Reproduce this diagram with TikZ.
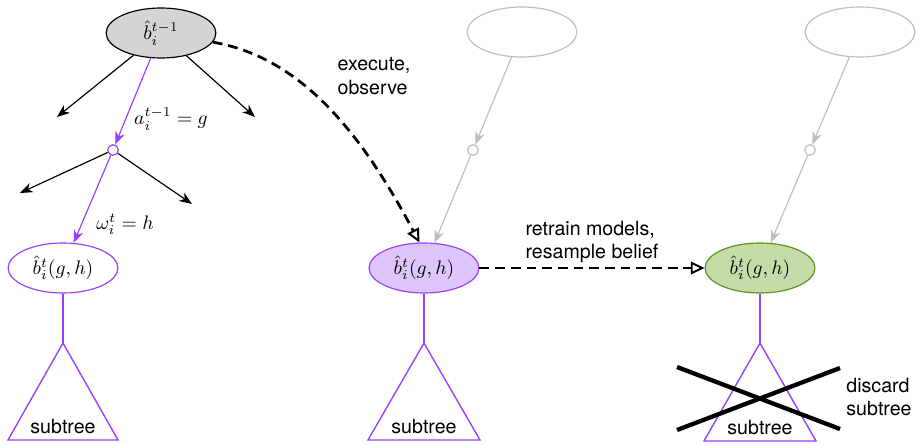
\documentclass[tikz,border=0pt]{standalone}
\usepackage{fontspec}
\setsansfont{TeX Gyre Heros}
\usetikzlibrary{arrows.meta,shapes.geometric}

\definecolor{treepurple}{RGB}{155,62,255}
\definecolor{beliefpurple}{RGB}{221,198,251}
\definecolor{beliefgreen}{RGB}{198,220,168}
\definecolor{greenedge}{RGB}{92,150,28}
\definecolor{rootgray}{RGB}{212,212,212}
\definecolor{ghost}{RGB}{190,190,190}

\tikzset{
	belief/.style={ellipse, draw, fill=white, line width=0.6pt, minimum width=56pt, minimum height=25.5pt, inner sep=0pt},
	chance/.style={circle, draw, fill=white, line width=0.6pt, minimum size=5.4pt, inner sep=0pt},
	branch/.style={line width=0.6pt, -{Stealth[length=6.5pt,width=5pt,inset=2pt]}},
	flow/.style={line width=1.4pt, dash pattern=on 5pt off 3pt, -{Triangle[open,length=7pt,width=6.5pt,line width=1pt]}},
	treeline/.style={treepurple, line width=0.7pt},
	txt/.style={font=\sffamily, align=left, inner sep=0pt}
}

\begin{document}
\begin{tikzpicture}[x=0.51pt, y=-0.51pt]
		%%%%% START %%%%%
		\useasboundingbox (0, 0) rectangle (917, 445);
		
		% left: planning tree
		\node[belief, fill=rootgray] (root) at (161, 33) {$\hat{b}_i^{t-1}$};
		\node[chance, draw=treepurple] (act) at (113, 150) {};
		\node[belief, draw=treepurple] (leftb) at (63, 268) {$\hat{b}_i^{t}(g,h)$};
		\coordinate (rootl) at (57, 117);
		\coordinate (rootr) at (255, 117);
		\coordinate (actl) at (20, 193);
		\coordinate (actr) at (192, 204);
		
		\draw[branch] (root) -- (rootl);
		\draw[branch] (root) -- (rootr);
		\draw[branch, treepurple] (root) -- (act);
		\draw[branch] (act) -- (actl);
		\draw[branch] (act) -- (actr);
		\draw[branch, treepurple] (act) -- (leftb);
		
		\node (alabel) at (171, 119) {$a_i^{t-1} = g$};
		\node (wlabel) at (125, 224) {$\omega_i^{t} = h$};
		
		\coordinate (lefttop) at (63, 343);
		\draw[treeline] (leftb) -- (lefttop);
		\draw[treeline] (lefttop) -- (118, 440) -- (8, 440) -- cycle;
		\node[txt] (leftsub) at (63, 426) {subtree};
		
		% middle: after execution
		\node[belief, draw=ghost] (midroot) at (522, 32) {};
		\node[chance, draw=ghost] (midact) at (473, 150) {};
		\node[belief, draw=treepurple, fill=beliefpurple] (midb) at (424, 268) {$\hat{b}_i^{t}(g,h)$};
		\draw[branch, ghost] (midroot) -- (midact);
		\draw[branch, ghost] (midact) -- (midb);
		
		\coordinate (midtop) at (424, 343);
		\draw[treeline] (midb) -- (midtop);
		\draw[treeline] (midtop) -- (480, 440) -- (368, 440) -- cycle;
		\node[txt] (midsub) at (424, 426) {subtree};
		
		% right: after retraining
		\node[belief, draw=ghost] (rightroot) at (860, 32) {};
		\node[chance, draw=ghost] (rightact) at (810, 150) {};
		\node[belief, draw=greenedge, fill=beliefgreen] (rightb) at (760, 268) {$\hat{b}_i^{t}(g,h)$};
		\draw[branch, ghost] (rightroot) -- (rightact);
		\draw[branch, ghost] (rightact) -- (rightb);
		
		\coordinate (righttop) at (760, 343);
		\draw[treeline] (rightb) -- (righttop);
		\draw[treeline] (righttop) -- (816, 441) -- (704, 441) -- cycle;
		\node[txt] (rightsub) at (760, 427) {subtree};
		
		\draw[line width=2.2pt] (677, 367) -- (840, 429);
		\draw[line width=2.2pt] (677, 430) -- (840, 368);
		\node[txt] (discard) at (879, 397) {discard\\subtree};
		
		% transitions
		\draw[flow] (root.350) .. controls (305, 58) and (365, 140) .. (midb.100);
		\node[txt] (execlabel) at (374, 76) {execute,\\observe};
		\draw[flow] (midb) -- (rightb);
		\node[txt] (retrainlabel) at (592, 242) {retrain models,\\resample belief};
		
		%%%%% END %%%%%
	\end{tikzpicture}
\end{document}
